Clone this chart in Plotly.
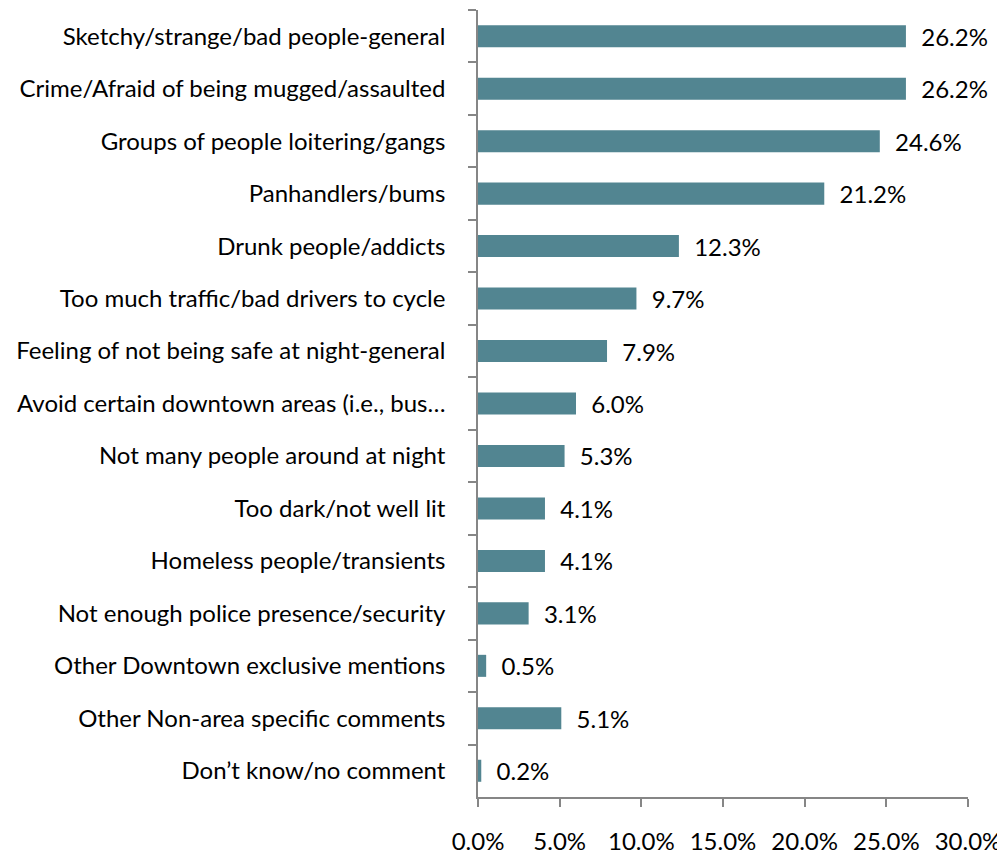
import plotly.graph_objects as go

categories = [
    "Sketchy/strange/bad people-general",
    "Crime/Afraid of being mugged/assaulted",
    "Groups of people loitering/gangs",
    "Panhandlers/bums",
    "Drunk people/addicts",
    "Too much traffic/bad drivers to cycle",
    "Feeling of not being safe at night-general",
    "Avoid certain downtown areas (i.e., bus…",
    "Not many people around at night",
    "Too dark/not well lit",
    "Homeless people/transients",
    "Not enough police presence/security",
    "Other Downtown exclusive mentions",
    "Other Non-area specific comments",
    "Don’t know/no comment",
]
values = [26.2, 26.2, 24.6, 21.2, 12.3, 9.7, 7.9, 6.0, 5.3, 4.1, 4.1, 3.1, 0.5, 5.1, 0.2]
tick_vals = [0, 5, 10, 15, 20, 25, 30]
tick_text = ["0.0%", "5.0%", "10.0%", "15.0%", "20.0%", "25.0%", "30.0%"]

FONT = "Lato, Open Sans, sans-serif"
FSIZE = 24
AXIS_COLOR = "#868686"

fig = go.Figure(go.Bar(
    x=values,
    y=categories,
    orientation="h",
    marker=dict(color="#528591", line=dict(width=0)),
    text=[f"  {v:.1f}%" for v in values],
    textposition="outside",
    constraintext="none",
    textfont=dict(family=FONT, size=FSIZE, color="#000000"),
    outsidetextfont=dict(family=FONT, size=FSIZE, color="#000000"),
    cliponaxis=False,
))

# page body adds an 8px offset; size and margins compensate for it
fig.update_layout(
    width=997,
    height=846,
    margin=dict(l=470, r=37, t=2, b=57, autoexpand=False),
    plot_bgcolor="white",
    paper_bgcolor="white",
    bargap=0.58,
    showlegend=False,
    font=dict(family=FONT, size=FSIZE, color="#000000"),
)
fig.update_xaxes(
    range=[0, 30],
    tickvals=tick_vals,
    ticktext=tick_text,
    showgrid=False,
    zeroline=False,
    showline=True,
    linecolor=AXIS_COLOR,
    linewidth=1.5,
    ticks="outside",
    ticklen=8,
    tickcolor=AXIS_COLOR,
    tickwidth=1.5,
    ticklabelstandoff=14,
    automargin=False,
    tickfont=dict(family=FONT, size=FSIZE, color="#000000"),
)
fig.update_yaxes(
    categoryorder="array",
    categoryarray=categories,
    autorange="reversed",
    showgrid=False,
    zeroline=False,
    showline=True,
    linecolor=AXIS_COLOR,
    linewidth=1.5,
    ticks="outside",
    tickson="boundaries",
    ticklen=8,
    tickcolor=AXIS_COLOR,
    tickwidth=1.5,
    ticklabelstandoff=26,
    automargin=False,
    tickfont=dict(family=FONT, size=FSIZE, color="#000000"),
)

fig.write_html("out.html")
